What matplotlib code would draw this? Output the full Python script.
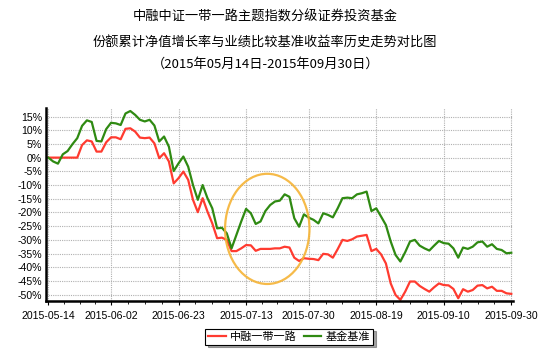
import matplotlib
matplotlib.use("Agg")
import matplotlib.pyplot as plt
import numpy as np
import pandas as pd
from matplotlib.patches import Ellipse
from matplotlib.ticker import FixedLocator

plt.rcParams['font.family'] = ['Noto Sans CJK SC', 'DejaVu Sans']

title_lines = ["中融中证一带一路主题指数分级证券投资基金",
               "份额累计净值增长率与业绩比较基准收益率历史走势对比图",
               "（2015年05月14日-2015年09月30日）"]

# trading days (bdays minus exchange holidays)
holidays = ["2015-06-22", "2015-09-03", "2015-09-04"]
dates = [d.strftime("%Y-%m-%d") for d in pd.bdate_range("2015-05-14", "2015-09-30")
         if d.strftime("%Y-%m-%d") not in holidays]

tick_dates = ["2015-05-14", "2015-06-02", "2015-06-23", "2015-07-13",
              "2015-07-30", "2015-08-19", "2015-09-10", "2015-09-30"]

# cumulative NAV growth of the fund (%)
fund = [0, 0, 0, 0, 0, 0, 0, 4.6, 6.3, 5.9,
        2.2, 2.2, 5.6, 7.4, 7.4, 6.7, 10.5, 10.7, 9.5, 7.3,
        7.1, 7.3, 5.2, -0.2, 1.6, -1.4, -9.4, -7.5, -5.1, -8.1,
        -15.4, -19.9, -14.8, -19.7, -24.0, -29.4, -29.2, -30.0, -34.1, -34.1,
        -33.1, -31.9, -32.0, -34.0, -33.3, -33.3, -33.3, -33.1, -33.1, -32.5,
        -32.8, -36.5, -37.7, -36.7, -36.9, -37.0, -37.4, -35.1, -35.3, -36.5,
        -33.4, -30.0, -30.4, -29.8, -28.8, -28.5, -28.2, -34.1, -33.3, -35.3,
        -38.6, -45.9, -50.1, -51.9, -48.9, -45.2, -45.2, -46.8, -47.9, -48.9,
        -47.3, -45.9, -46.5, -46.6, -47.9, -51.3, -48.0, -48.9, -48.3, -46.7,
        -46.5, -47.7, -47.1, -48.6, -48.6, -49.5, -49.7]

# benchmark return (%)
bench = [0, -1.4, -2.2, 1.2, 2.4, 4.9, 7.1, 11.6, 13.6, 13.0,
         6.1, 5.9, 10.4, 12.7, 12.5, 11.9, 16.1, 17.0, 15.6, 13.8,
         13.2, 13.8, 11.7, 5.9, 7.7, 4.0, -4.9, -2.1, 0.4, -3.3,
         -10.0, -15.4, -10.0, -14.8, -18.5, -25.8, -25.6, -27.6, -33.1, -28.2,
         -23.3, -18.7, -20.3, -24.2, -23.3, -19.5, -17.3, -16.0, -15.7, -13.4,
         -14.3, -22.1, -25.2, -20.7, -21.9, -22.7, -24.0, -20.3, -20.9, -21.8,
         -18.5, -14.8, -14.6, -14.8, -13.4, -13.0, -12.4, -19.5, -18.5, -21.5,
         -24.6, -30.6, -35.5, -37.9, -34.5, -30.6, -30.0, -32.1, -33.1, -33.9,
         -32.1, -30.4, -31.2, -31.4, -33.1, -36.5, -32.8, -33.3, -32.5, -30.9,
         -30.6, -32.5, -31.6, -33.3, -33.7, -34.9, -34.7]

yticks = list(range(15, -55, -5))

fig = plt.figure(figsize=(5.55, 3.51), dpi=100)
ax = fig.add_axes([0.0836, 0.1425, 0.8411, 0.5498])

x = np.arange(len(dates))
ax.plot(x, fund, color='#ff3b30', lw=1.6, label='中融一带一路')
ax.plot(x, bench, color='#2f8a12', lw=1.6, label='基金基准')

# highlight ring
ax.add_patch(Ellipse((45.4, -26.0), 17.5, 40.2, fill=False,
                     edgecolor='#f5b335', lw=1.6, alpha=0.9, zorder=5))

tick_pos = [dates.index(d) for d in tick_dates]
ax.set_xticks(tick_pos)
ax.set_xticklabels(tick_dates, family=['Liberation Sans'], fontsize=7.6)
minor = []
for a, b in zip(tick_pos[:-1], tick_pos[1:]):
    minor += [a + (b - a) * k / 4 for k in (1, 2, 3)]
ax.xaxis.set_minor_locator(FixedLocator(minor))
ax.set_yticks(yticks)
ax.set_yticklabels([f"{v}%" for v in yticks], family=['Liberation Sans'], fontsize=7.6)

ax.set_xlim(-0.4, 96.4)
ax.set_ylim(-52.3, 18.1)
ax.grid(True, color='#b0b0b0', ls=(0, (1, 1)), lw=0.8)
ax.set_axisbelow(True)
for s in ('top', 'right'):
    ax.spines[s].set_visible(False)
for s in ('left', 'bottom'):
    ax.spines[s].set_linewidth(1.8)
ax.tick_params(axis='y', length=0, pad=3)
ax.tick_params(axis='x', which='major', length=3, pad=4)
ax.tick_params(axis='x', which='minor', length=2)

ty = [0.952, 0.878, 0.818]
for t, yy in zip(title_lines, ty):
    fig.text(0.478, yy, t, ha='center', va='center', fontsize=9.5)

leg = fig.legend(loc='center', bbox_to_anchor=(0.521, 0.041), ncol=2,
                 fancybox=False, shadow=True, edgecolor='black', fontsize=8,
                 handlelength=1.6, handletextpad=0.4, columnspacing=0.6,
                 borderpad=0.25, framealpha=1)
leg.get_frame().set_linewidth(0.8)

fig.savefig("out.png", dpi=100)
